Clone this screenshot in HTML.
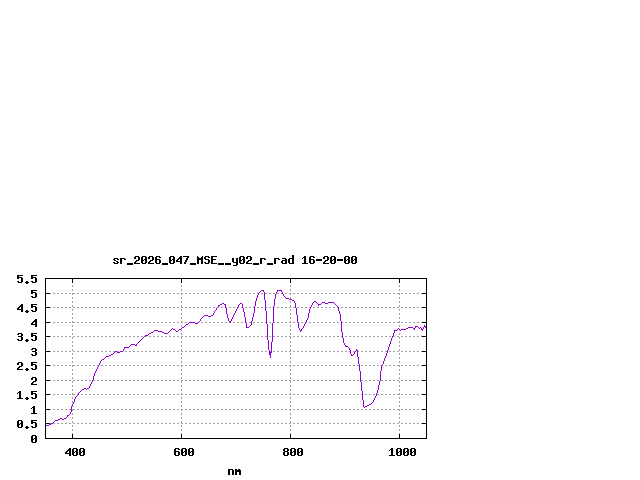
<!DOCTYPE html>
<html><head><meta charset="utf-8"><style>html,body{margin:0;padding:0;background:#fff;width:640px;height:480px;overflow:hidden}svg{display:block}</style></head>
<body><svg width="640" height="480" viewBox="0 0 640 480" shape-rendering="crispEdges"><rect width="640" height="480" fill="#fff"/><path fill="#000000" d="M292 255h2v1h-2zM135 256h4v1h-4zM142 256h4v1h-4zM149 256h4v1h-4zM156 256h4v1h-4zM170 256h4v1h-4zM180 256h2v1h-2zM183 256h6v1h-6zM197 256h1v1h-1zM202 256h1v1h-1zM205 256h4v1h-4zM211 256h6v1h-6zM240 256h4v1h-4zM247 256h4v1h-4zM292 256h2v1h-2zM304 256h2v1h-2zM310 256h4v1h-4zM324 256h4v1h-4zM331 256h4v1h-4zM345 256h4v1h-4zM352 256h4v1h-4zM134 257h2v1h-2zM138 257h2v1h-2zM141 257h2v1h-2zM145 257h2v1h-2zM148 257h2v1h-2zM152 257h2v1h-2zM155 257h2v1h-2zM159 257h2v1h-2zM169 257h2v1h-2zM173 257h2v1h-2zM179 257h3v1h-3zM187 257h2v1h-2zM197 257h2v1h-2zM201 257h2v1h-2zM204 257h2v1h-2zM208 257h2v1h-2zM211 257h2v1h-2zM239 257h2v1h-2zM243 257h2v1h-2zM246 257h2v1h-2zM250 257h2v1h-2zM292 257h2v1h-2zM303 257h3v1h-3zM309 257h2v1h-2zM313 257h2v1h-2zM323 257h2v1h-2zM327 257h2v1h-2zM330 257h2v1h-2zM334 257h2v1h-2zM344 257h2v1h-2zM348 257h2v1h-2zM351 257h2v1h-2zM355 257h2v1h-2zM114 258h4v1h-4zM120 258h5v1h-5zM134 258h2v1h-2zM138 258h2v1h-2zM141 258h2v1h-2zM145 258h2v1h-2zM148 258h2v1h-2zM152 258h2v1h-2zM155 258h2v1h-2zM169 258h2v1h-2zM173 258h2v1h-2zM178 258h4v1h-4zM186 258h2v1h-2zM197 258h6v1h-6zM204 258h2v1h-2zM211 258h2v1h-2zM232 258h2v1h-2zM236 258h2v1h-2zM239 258h2v1h-2zM243 258h2v1h-2zM246 258h2v1h-2zM250 258h2v1h-2zM260 258h5v1h-5zM274 258h5v1h-5zM282 258h4v1h-4zM289 258h5v1h-5zM302 258h1v1h-1zM304 258h2v1h-2zM309 258h2v1h-2zM323 258h2v1h-2zM327 258h2v1h-2zM330 258h2v1h-2zM334 258h2v1h-2zM344 258h2v1h-2zM348 258h2v1h-2zM351 258h2v1h-2zM355 258h2v1h-2zM113 259h2v1h-2zM117 259h2v1h-2zM120 259h2v1h-2zM124 259h2v1h-2zM138 259h2v1h-2zM141 259h2v1h-2zM144 259h3v1h-3zM152 259h2v1h-2zM155 259h5v1h-5zM169 259h2v1h-2zM172 259h3v1h-3zM177 259h2v1h-2zM180 259h2v1h-2zM186 259h2v1h-2zM197 259h6v1h-6zM205 259h4v1h-4zM211 259h5v1h-5zM232 259h2v1h-2zM236 259h2v1h-2zM239 259h2v1h-2zM242 259h3v1h-3zM250 259h2v1h-2zM260 259h2v1h-2zM264 259h2v1h-2zM274 259h2v1h-2zM278 259h2v1h-2zM285 259h2v1h-2zM288 259h2v1h-2zM292 259h2v1h-2zM304 259h2v1h-2zM309 259h5v1h-5zM316 259h6v1h-6zM327 259h2v1h-2zM330 259h2v1h-2zM333 259h3v1h-3zM337 259h6v1h-6zM344 259h2v1h-2zM347 259h3v1h-3zM351 259h2v1h-2zM354 259h3v1h-3zM114 260h2v1h-2zM120 260h2v1h-2zM136 260h3v1h-3zM141 260h3v1h-3zM145 260h2v1h-2zM150 260h3v1h-3zM155 260h2v1h-2zM159 260h2v1h-2zM169 260h3v1h-3zM173 260h2v1h-2zM176 260h2v1h-2zM180 260h2v1h-2zM185 260h2v1h-2zM197 260h2v1h-2zM201 260h2v1h-2zM208 260h2v1h-2zM211 260h2v1h-2zM232 260h2v1h-2zM236 260h2v1h-2zM239 260h3v1h-3zM243 260h2v1h-2zM248 260h3v1h-3zM260 260h2v1h-2zM274 260h2v1h-2zM282 260h5v1h-5zM288 260h2v1h-2zM292 260h2v1h-2zM304 260h2v1h-2zM309 260h2v1h-2zM313 260h2v1h-2zM316 260h6v1h-6zM325 260h3v1h-3zM330 260h3v1h-3zM334 260h2v1h-2zM337 260h6v1h-6zM344 260h3v1h-3zM348 260h2v1h-2zM351 260h3v1h-3zM355 260h2v1h-2zM116 261h2v1h-2zM120 261h2v1h-2zM135 261h2v1h-2zM141 261h2v1h-2zM145 261h2v1h-2zM149 261h2v1h-2zM155 261h2v1h-2zM159 261h2v1h-2zM169 261h2v1h-2zM173 261h2v1h-2zM176 261h6v1h-6zM185 261h2v1h-2zM197 261h2v1h-2zM201 261h2v1h-2zM208 261h2v1h-2zM211 261h2v1h-2zM232 261h2v1h-2zM236 261h2v1h-2zM239 261h2v1h-2zM243 261h2v1h-2zM247 261h2v1h-2zM260 261h2v1h-2zM274 261h2v1h-2zM281 261h2v1h-2zM285 261h2v1h-2zM288 261h2v1h-2zM292 261h2v1h-2zM304 261h2v1h-2zM309 261h2v1h-2zM313 261h2v1h-2zM324 261h2v1h-2zM330 261h2v1h-2zM334 261h2v1h-2zM344 261h2v1h-2zM348 261h2v1h-2zM351 261h2v1h-2zM355 261h2v1h-2zM113 262h2v1h-2zM117 262h2v1h-2zM120 262h2v1h-2zM134 262h2v1h-2zM141 262h2v1h-2zM145 262h2v1h-2zM148 262h2v1h-2zM155 262h2v1h-2zM159 262h2v1h-2zM169 262h2v1h-2zM173 262h2v1h-2zM180 262h2v1h-2zM184 262h2v1h-2zM197 262h2v1h-2zM201 262h2v1h-2zM204 262h2v1h-2zM208 262h2v1h-2zM211 262h2v1h-2zM233 262h5v1h-5zM239 262h2v1h-2zM243 262h2v1h-2zM246 262h2v1h-2zM260 262h2v1h-2zM274 262h2v1h-2zM281 262h2v1h-2zM285 262h2v1h-2zM288 262h2v1h-2zM292 262h2v1h-2zM304 262h2v1h-2zM309 262h2v1h-2zM313 262h2v1h-2zM323 262h2v1h-2zM330 262h2v1h-2zM334 262h2v1h-2zM344 262h2v1h-2zM348 262h2v1h-2zM351 262h2v1h-2zM355 262h2v1h-2zM114 263h4v1h-4zM120 263h2v1h-2zM127 263h6v1h-6zM134 263h6v1h-6zM142 263h4v1h-4zM148 263h6v1h-6zM156 263h4v1h-4zM162 263h6v1h-6zM170 263h4v1h-4zM180 263h2v1h-2zM184 263h2v1h-2zM190 263h6v1h-6zM197 263h2v1h-2zM201 263h2v1h-2zM205 263h4v1h-4zM211 263h6v1h-6zM218 263h6v1h-6zM225 263h6v1h-6zM236 263h2v1h-2zM240 263h4v1h-4zM246 263h6v1h-6zM253 263h6v1h-6zM260 263h2v1h-2zM267 263h6v1h-6zM274 263h2v1h-2zM282 263h5v1h-5zM289 263h5v1h-5zM302 263h6v1h-6zM310 263h4v1h-4zM323 263h6v1h-6zM331 263h4v1h-4zM345 263h4v1h-4zM352 263h4v1h-4zM127 264h6v1h-6zM162 264h6v1h-6zM190 264h6v1h-6zM218 264h6v1h-6zM225 264h6v1h-6zM236 264h2v1h-2zM253 264h6v1h-6zM267 264h6v1h-6zM233 265h4v1h-4zM17 275h6v1h-6zM31 275h6v1h-6zM17 276h2v1h-2zM31 276h2v1h-2zM17 277h5v1h-5zM31 277h5v1h-5zM17 278h2v1h-2zM21 278h2v1h-2zM31 278h2v1h-2zM35 278h2v1h-2zM45 278h382v1h-382zM21 279h2v1h-2zM35 279h2v1h-2zM45 279h1v1h-1zM72 279h1v1h-1zM181 279h1v1h-1zM290 279h1v1h-1zM399 279h1v1h-1zM426 279h1v1h-1zM21 280h2v1h-2zM35 280h2v1h-2zM45 280h1v1h-1zM72 280h1v1h-1zM181 280h1v1h-1zM290 280h1v1h-1zM399 280h1v1h-1zM426 280h1v1h-1zM17 281h2v1h-2zM21 281h2v1h-2zM26 281h2v1h-2zM31 281h2v1h-2zM35 281h2v1h-2zM45 281h1v1h-1zM72 281h1v1h-1zM181 281h1v1h-1zM290 281h1v1h-1zM399 281h1v1h-1zM426 281h1v1h-1zM18 282h4v1h-4zM25 282h4v1h-4zM32 282h4v1h-4zM45 282h1v1h-1zM72 282h1v1h-1zM181 282h1v1h-1zM290 282h1v1h-1zM399 282h1v1h-1zM426 282h1v1h-1zM26 283h2v1h-2zM45 283h1v1h-1zM426 283h1v1h-1zM45 284h1v1h-1zM426 284h1v1h-1zM45 285h1v1h-1zM426 285h1v1h-1zM45 286h1v1h-1zM426 286h1v1h-1zM45 287h1v1h-1zM426 287h1v1h-1zM45 288h1v1h-1zM426 288h1v1h-1zM45 289h1v1h-1zM426 289h1v1h-1zM31 290h6v1h-6zM45 290h1v1h-1zM426 290h1v1h-1zM31 291h2v1h-2zM45 291h1v1h-1zM426 291h1v1h-1zM31 292h5v1h-5zM45 292h1v1h-1zM426 292h1v1h-1zM31 293h2v1h-2zM35 293h2v1h-2zM45 293h5v1h-5zM422 293h5v1h-5zM35 294h2v1h-2zM45 294h1v1h-1zM426 294h1v1h-1zM35 295h2v1h-2zM45 295h1v1h-1zM426 295h1v1h-1zM31 296h2v1h-2zM35 296h2v1h-2zM45 296h1v1h-1zM426 296h1v1h-1zM32 297h4v1h-4zM45 297h1v1h-1zM426 297h1v1h-1zM45 298h1v1h-1zM426 298h1v1h-1zM45 299h1v1h-1zM426 299h1v1h-1zM45 300h1v1h-1zM426 300h1v1h-1zM45 301h1v1h-1zM426 301h1v1h-1zM45 302h1v1h-1zM426 302h1v1h-1zM45 303h1v1h-1zM426 303h1v1h-1zM21 304h2v1h-2zM31 304h6v1h-6zM45 304h1v1h-1zM426 304h1v1h-1zM20 305h3v1h-3zM31 305h2v1h-2zM45 305h1v1h-1zM426 305h1v1h-1zM19 306h4v1h-4zM31 306h5v1h-5zM45 306h1v1h-1zM426 306h1v1h-1zM18 307h2v1h-2zM21 307h2v1h-2zM31 307h2v1h-2zM35 307h2v1h-2zM45 307h5v1h-5zM422 307h5v1h-5zM17 308h2v1h-2zM21 308h2v1h-2zM35 308h2v1h-2zM45 308h1v1h-1zM426 308h1v1h-1zM17 309h6v1h-6zM35 309h2v1h-2zM45 309h1v1h-1zM426 309h1v1h-1zM21 310h2v1h-2zM26 310h2v1h-2zM31 310h2v1h-2zM35 310h2v1h-2zM45 310h1v1h-1zM426 310h1v1h-1zM21 311h2v1h-2zM25 311h4v1h-4zM32 311h4v1h-4zM45 311h1v1h-1zM426 311h1v1h-1zM26 312h2v1h-2zM45 312h1v1h-1zM426 312h1v1h-1zM45 313h1v1h-1zM426 313h1v1h-1zM45 314h1v1h-1zM426 314h1v1h-1zM45 315h1v1h-1zM426 315h1v1h-1zM45 316h1v1h-1zM426 316h1v1h-1zM45 317h1v1h-1zM426 317h1v1h-1zM45 318h1v1h-1zM426 318h1v1h-1zM35 319h2v1h-2zM45 319h1v1h-1zM426 319h1v1h-1zM34 320h3v1h-3zM45 320h1v1h-1zM426 320h1v1h-1zM33 321h4v1h-4zM45 321h1v1h-1zM426 321h1v1h-1zM32 322h2v1h-2zM35 322h2v1h-2zM45 322h5v1h-5zM422 322h5v1h-5zM31 323h2v1h-2zM35 323h2v1h-2zM45 323h1v1h-1zM426 323h1v1h-1zM31 324h6v1h-6zM45 324h1v1h-1zM426 324h1v1h-1zM35 325h2v1h-2zM45 325h1v1h-1zM426 325h1v1h-1zM35 326h2v1h-2zM45 326h1v1h-1zM426 326h1v1h-1zM45 327h1v1h-1zM426 327h1v1h-1zM45 328h1v1h-1zM426 328h1v1h-1zM45 329h1v1h-1zM426 329h1v1h-1zM45 330h1v1h-1zM426 330h1v1h-1zM45 331h1v1h-1zM426 331h1v1h-1zM45 332h1v1h-1zM426 332h1v1h-1zM18 333h4v1h-4zM31 333h6v1h-6zM45 333h1v1h-1zM426 333h1v1h-1zM17 334h2v1h-2zM21 334h2v1h-2zM31 334h2v1h-2zM45 334h1v1h-1zM426 334h1v1h-1zM21 335h2v1h-2zM31 335h5v1h-5zM45 335h1v1h-1zM426 335h1v1h-1zM18 336h4v1h-4zM31 336h2v1h-2zM35 336h2v1h-2zM45 336h5v1h-5zM422 336h5v1h-5zM21 337h2v1h-2zM35 337h2v1h-2zM45 337h1v1h-1zM426 337h1v1h-1zM21 338h2v1h-2zM35 338h2v1h-2zM45 338h1v1h-1zM426 338h1v1h-1zM17 339h2v1h-2zM21 339h2v1h-2zM26 339h2v1h-2zM31 339h2v1h-2zM35 339h2v1h-2zM45 339h1v1h-1zM426 339h1v1h-1zM18 340h4v1h-4zM25 340h4v1h-4zM32 340h4v1h-4zM45 340h1v1h-1zM426 340h1v1h-1zM26 341h2v1h-2zM45 341h1v1h-1zM426 341h1v1h-1zM45 342h1v1h-1zM426 342h1v1h-1zM45 343h1v1h-1zM426 343h1v1h-1zM45 344h1v1h-1zM426 344h1v1h-1zM45 345h1v1h-1zM426 345h1v1h-1zM45 346h1v1h-1zM426 346h1v1h-1zM45 347h1v1h-1zM426 347h1v1h-1zM32 348h4v1h-4zM45 348h1v1h-1zM426 348h1v1h-1zM31 349h2v1h-2zM35 349h2v1h-2zM45 349h1v1h-1zM426 349h1v1h-1zM35 350h2v1h-2zM45 350h1v1h-1zM426 350h1v1h-1zM32 351h4v1h-4zM45 351h5v1h-5zM422 351h5v1h-5zM35 352h2v1h-2zM45 352h1v1h-1zM426 352h1v1h-1zM35 353h2v1h-2zM45 353h1v1h-1zM426 353h1v1h-1zM31 354h2v1h-2zM35 354h2v1h-2zM45 354h1v1h-1zM426 354h1v1h-1zM32 355h4v1h-4zM45 355h1v1h-1zM426 355h1v1h-1zM45 356h1v1h-1zM426 356h1v1h-1zM45 357h1v1h-1zM426 357h1v1h-1zM45 358h1v1h-1zM426 358h1v1h-1zM45 359h1v1h-1zM426 359h1v1h-1zM45 360h1v1h-1zM426 360h1v1h-1zM45 361h1v1h-1zM426 361h1v1h-1zM18 362h4v1h-4zM31 362h6v1h-6zM45 362h1v1h-1zM426 362h1v1h-1zM17 363h2v1h-2zM21 363h2v1h-2zM31 363h2v1h-2zM45 363h1v1h-1zM426 363h1v1h-1zM17 364h2v1h-2zM21 364h2v1h-2zM31 364h5v1h-5zM45 364h1v1h-1zM426 364h1v1h-1zM21 365h2v1h-2zM31 365h2v1h-2zM35 365h2v1h-2zM45 365h5v1h-5zM422 365h5v1h-5zM19 366h3v1h-3zM35 366h2v1h-2zM45 366h1v1h-1zM426 366h1v1h-1zM18 367h2v1h-2zM35 367h2v1h-2zM45 367h1v1h-1zM426 367h1v1h-1zM17 368h2v1h-2zM26 368h2v1h-2zM31 368h2v1h-2zM35 368h2v1h-2zM45 368h1v1h-1zM426 368h1v1h-1zM17 369h6v1h-6zM25 369h4v1h-4zM32 369h4v1h-4zM45 369h1v1h-1zM426 369h1v1h-1zM26 370h2v1h-2zM45 370h1v1h-1zM426 370h1v1h-1zM45 371h1v1h-1zM426 371h1v1h-1zM45 372h1v1h-1zM426 372h1v1h-1zM45 373h1v1h-1zM426 373h1v1h-1zM45 374h1v1h-1zM426 374h1v1h-1zM45 375h1v1h-1zM426 375h1v1h-1zM45 376h1v1h-1zM426 376h1v1h-1zM32 377h4v1h-4zM45 377h1v1h-1zM426 377h1v1h-1zM31 378h2v1h-2zM35 378h2v1h-2zM45 378h1v1h-1zM426 378h1v1h-1zM31 379h2v1h-2zM35 379h2v1h-2zM45 379h1v1h-1zM426 379h1v1h-1zM35 380h2v1h-2zM45 380h5v1h-5zM422 380h5v1h-5zM33 381h3v1h-3zM45 381h1v1h-1zM426 381h1v1h-1zM32 382h2v1h-2zM45 382h1v1h-1zM426 382h1v1h-1zM31 383h2v1h-2zM45 383h1v1h-1zM426 383h1v1h-1zM31 384h6v1h-6zM45 384h1v1h-1zM426 384h1v1h-1zM45 385h1v1h-1zM426 385h1v1h-1zM45 386h1v1h-1zM426 386h1v1h-1zM45 387h1v1h-1zM426 387h1v1h-1zM45 388h1v1h-1zM426 388h1v1h-1zM45 389h1v1h-1zM426 389h1v1h-1zM45 390h1v1h-1zM426 390h1v1h-1zM19 391h2v1h-2zM31 391h6v1h-6zM45 391h1v1h-1zM426 391h1v1h-1zM18 392h3v1h-3zM31 392h2v1h-2zM45 392h1v1h-1zM426 392h1v1h-1zM17 393h1v1h-1zM19 393h2v1h-2zM31 393h5v1h-5zM45 393h1v1h-1zM426 393h1v1h-1zM19 394h2v1h-2zM31 394h2v1h-2zM35 394h2v1h-2zM45 394h5v1h-5zM422 394h5v1h-5zM19 395h2v1h-2zM35 395h2v1h-2zM45 395h1v1h-1zM426 395h1v1h-1zM19 396h2v1h-2zM35 396h2v1h-2zM45 396h1v1h-1zM426 396h1v1h-1zM19 397h2v1h-2zM26 397h2v1h-2zM31 397h2v1h-2zM35 397h2v1h-2zM45 397h1v1h-1zM426 397h1v1h-1zM17 398h6v1h-6zM25 398h4v1h-4zM32 398h4v1h-4zM45 398h1v1h-1zM426 398h1v1h-1zM26 399h2v1h-2zM45 399h1v1h-1zM426 399h1v1h-1zM45 400h1v1h-1zM426 400h1v1h-1zM45 401h1v1h-1zM426 401h1v1h-1zM45 402h1v1h-1zM426 402h1v1h-1zM45 403h1v1h-1zM426 403h1v1h-1zM45 404h1v1h-1zM426 404h1v1h-1zM45 405h1v1h-1zM426 405h1v1h-1zM33 406h2v1h-2zM45 406h1v1h-1zM426 406h1v1h-1zM32 407h3v1h-3zM45 407h1v1h-1zM426 407h1v1h-1zM31 408h1v1h-1zM33 408h2v1h-2zM45 408h1v1h-1zM426 408h1v1h-1zM33 409h2v1h-2zM45 409h5v1h-5zM422 409h5v1h-5zM33 410h2v1h-2zM45 410h1v1h-1zM426 410h1v1h-1zM33 411h2v1h-2zM45 411h1v1h-1zM426 411h1v1h-1zM33 412h2v1h-2zM45 412h1v1h-1zM426 412h1v1h-1zM31 413h6v1h-6zM45 413h1v1h-1zM426 413h1v1h-1zM45 414h1v1h-1zM426 414h1v1h-1zM45 415h1v1h-1zM426 415h1v1h-1zM45 416h1v1h-1zM426 416h1v1h-1zM45 417h1v1h-1zM426 417h1v1h-1zM45 418h1v1h-1zM426 418h1v1h-1zM45 419h1v1h-1zM426 419h1v1h-1zM18 420h4v1h-4zM31 420h6v1h-6zM45 420h1v1h-1zM426 420h1v1h-1zM17 421h2v1h-2zM21 421h2v1h-2zM31 421h2v1h-2zM45 421h1v1h-1zM426 421h1v1h-1zM17 422h2v1h-2zM21 422h2v1h-2zM31 422h5v1h-5zM45 422h1v1h-1zM426 422h1v1h-1zM17 423h2v1h-2zM20 423h3v1h-3zM31 423h2v1h-2zM35 423h2v1h-2zM45 423h5v1h-5zM422 423h5v1h-5zM17 424h3v1h-3zM21 424h2v1h-2zM35 424h2v1h-2zM45 424h1v1h-1zM426 424h1v1h-1zM17 425h2v1h-2zM21 425h2v1h-2zM35 425h2v1h-2zM45 425h1v1h-1zM426 425h1v1h-1zM17 426h2v1h-2zM21 426h2v1h-2zM26 426h2v1h-2zM31 426h2v1h-2zM35 426h2v1h-2zM45 426h1v1h-1zM426 426h1v1h-1zM18 427h4v1h-4zM25 427h4v1h-4zM32 427h4v1h-4zM45 427h1v1h-1zM426 427h1v1h-1zM26 428h2v1h-2zM45 428h1v1h-1zM426 428h1v1h-1zM45 429h1v1h-1zM426 429h1v1h-1zM45 430h1v1h-1zM426 430h1v1h-1zM45 431h1v1h-1zM426 431h1v1h-1zM45 432h1v1h-1zM426 432h1v1h-1zM45 433h1v1h-1zM426 433h1v1h-1zM45 434h1v1h-1zM72 434h1v1h-1zM181 434h1v1h-1zM290 434h1v1h-1zM399 434h1v1h-1zM426 434h1v1h-1zM32 435h4v1h-4zM45 435h1v1h-1zM72 435h1v1h-1zM181 435h1v1h-1zM290 435h1v1h-1zM399 435h1v1h-1zM426 435h1v1h-1zM31 436h2v1h-2zM35 436h2v1h-2zM45 436h1v1h-1zM72 436h1v1h-1zM181 436h1v1h-1zM290 436h1v1h-1zM399 436h1v1h-1zM426 436h1v1h-1zM31 437h2v1h-2zM35 437h2v1h-2zM45 437h1v1h-1zM72 437h1v1h-1zM181 437h1v1h-1zM290 437h1v1h-1zM399 437h1v1h-1zM426 437h1v1h-1zM31 438h2v1h-2zM34 438h3v1h-3zM45 438h382v1h-382zM31 439h3v1h-3zM35 439h2v1h-2zM31 440h2v1h-2zM35 440h2v1h-2zM31 441h2v1h-2zM35 441h2v1h-2zM32 442h4v1h-4zM69 448h2v1h-2zM73 448h4v1h-4zM80 448h4v1h-4zM175 448h4v1h-4zM182 448h4v1h-4zM189 448h4v1h-4zM284 448h4v1h-4zM291 448h4v1h-4zM298 448h4v1h-4zM391 448h2v1h-2zM397 448h4v1h-4zM404 448h4v1h-4zM411 448h4v1h-4zM68 449h3v1h-3zM72 449h2v1h-2zM76 449h2v1h-2zM79 449h2v1h-2zM83 449h2v1h-2zM174 449h2v1h-2zM178 449h2v1h-2zM181 449h2v1h-2zM185 449h2v1h-2zM188 449h2v1h-2zM192 449h2v1h-2zM283 449h2v1h-2zM287 449h2v1h-2zM290 449h2v1h-2zM294 449h2v1h-2zM297 449h2v1h-2zM301 449h2v1h-2zM390 449h3v1h-3zM396 449h2v1h-2zM400 449h2v1h-2zM403 449h2v1h-2zM407 449h2v1h-2zM410 449h2v1h-2zM414 449h2v1h-2zM67 450h4v1h-4zM72 450h2v1h-2zM76 450h2v1h-2zM79 450h2v1h-2zM83 450h2v1h-2zM174 450h2v1h-2zM181 450h2v1h-2zM185 450h2v1h-2zM188 450h2v1h-2zM192 450h2v1h-2zM283 450h2v1h-2zM287 450h2v1h-2zM290 450h2v1h-2zM294 450h2v1h-2zM297 450h2v1h-2zM301 450h2v1h-2zM389 450h1v1h-1zM391 450h2v1h-2zM396 450h2v1h-2zM400 450h2v1h-2zM403 450h2v1h-2zM407 450h2v1h-2zM410 450h2v1h-2zM414 450h2v1h-2zM66 451h2v1h-2zM69 451h2v1h-2zM72 451h2v1h-2zM75 451h3v1h-3zM79 451h2v1h-2zM82 451h3v1h-3zM174 451h5v1h-5zM181 451h2v1h-2zM184 451h3v1h-3zM188 451h2v1h-2zM191 451h3v1h-3zM284 451h4v1h-4zM290 451h2v1h-2zM293 451h3v1h-3zM297 451h2v1h-2zM300 451h3v1h-3zM391 451h2v1h-2zM396 451h2v1h-2zM399 451h3v1h-3zM403 451h2v1h-2zM406 451h3v1h-3zM410 451h2v1h-2zM413 451h3v1h-3zM65 452h2v1h-2zM69 452h2v1h-2zM72 452h3v1h-3zM76 452h2v1h-2zM79 452h3v1h-3zM83 452h2v1h-2zM174 452h2v1h-2zM178 452h2v1h-2zM181 452h3v1h-3zM185 452h2v1h-2zM188 452h3v1h-3zM192 452h2v1h-2zM283 452h2v1h-2zM287 452h2v1h-2zM290 452h3v1h-3zM294 452h2v1h-2zM297 452h3v1h-3zM301 452h2v1h-2zM391 452h2v1h-2zM396 452h3v1h-3zM400 452h2v1h-2zM403 452h3v1h-3zM407 452h2v1h-2zM410 452h3v1h-3zM414 452h2v1h-2zM65 453h6v1h-6zM72 453h2v1h-2zM76 453h2v1h-2zM79 453h2v1h-2zM83 453h2v1h-2zM174 453h2v1h-2zM178 453h2v1h-2zM181 453h2v1h-2zM185 453h2v1h-2zM188 453h2v1h-2zM192 453h2v1h-2zM283 453h2v1h-2zM287 453h2v1h-2zM290 453h2v1h-2zM294 453h2v1h-2zM297 453h2v1h-2zM301 453h2v1h-2zM391 453h2v1h-2zM396 453h2v1h-2zM400 453h2v1h-2zM403 453h2v1h-2zM407 453h2v1h-2zM410 453h2v1h-2zM414 453h2v1h-2zM69 454h2v1h-2zM72 454h2v1h-2zM76 454h2v1h-2zM79 454h2v1h-2zM83 454h2v1h-2zM174 454h2v1h-2zM178 454h2v1h-2zM181 454h2v1h-2zM185 454h2v1h-2zM188 454h2v1h-2zM192 454h2v1h-2zM283 454h2v1h-2zM287 454h2v1h-2zM290 454h2v1h-2zM294 454h2v1h-2zM297 454h2v1h-2zM301 454h2v1h-2zM391 454h2v1h-2zM396 454h2v1h-2zM400 454h2v1h-2zM403 454h2v1h-2zM407 454h2v1h-2zM410 454h2v1h-2zM414 454h2v1h-2zM69 455h2v1h-2zM73 455h4v1h-4zM80 455h4v1h-4zM175 455h4v1h-4zM182 455h4v1h-4zM189 455h4v1h-4zM284 455h4v1h-4zM291 455h4v1h-4zM298 455h4v1h-4zM389 455h6v1h-6zM397 455h4v1h-4zM404 455h4v1h-4zM411 455h4v1h-4zM228 469h5v1h-5zM235 469h2v1h-2zM238 469h2v1h-2zM228 470h2v1h-2zM232 470h2v1h-2zM235 470h6v1h-6zM228 471h2v1h-2zM232 471h2v1h-2zM235 471h6v1h-6zM228 472h2v1h-2zM232 472h2v1h-2zM235 472h2v1h-2zM239 472h2v1h-2zM228 473h2v1h-2zM232 473h2v1h-2zM235 473h2v1h-2zM239 473h2v1h-2zM228 474h2v1h-2zM232 474h2v1h-2zM235 474h2v1h-2zM239 474h2v1h-2z"/><path fill="#a0a0a0" d="M72 285h1v1h-1zM181 285h1v1h-1zM290 285h1v1h-1zM399 285h1v1h-1zM72 286h1v1h-1zM181 286h1v1h-1zM290 286h1v1h-1zM399 286h1v1h-1zM72 289h1v1h-1zM181 289h1v1h-1zM290 289h1v1h-1zM399 289h1v1h-1zM72 290h1v1h-1zM181 290h1v1h-1zM290 290h1v1h-1zM399 290h1v1h-1zM50 293h1v1h-1zM53 293h2v1h-2zM57 293h2v1h-2zM61 293h2v1h-2zM65 293h2v1h-2zM69 293h2v1h-2zM72 293h3v1h-3zM77 293h2v1h-2zM81 293h2v1h-2zM85 293h2v1h-2zM89 293h2v1h-2zM93 293h2v1h-2zM97 293h2v1h-2zM101 293h2v1h-2zM105 293h2v1h-2zM109 293h2v1h-2zM113 293h2v1h-2zM117 293h2v1h-2zM121 293h2v1h-2zM125 293h2v1h-2zM129 293h2v1h-2zM133 293h2v1h-2zM137 293h2v1h-2zM141 293h2v1h-2zM145 293h2v1h-2zM149 293h2v1h-2zM153 293h2v1h-2zM157 293h2v1h-2zM161 293h2v1h-2zM165 293h2v1h-2zM169 293h2v1h-2zM173 293h2v1h-2zM177 293h2v1h-2zM181 293h2v1h-2zM185 293h2v1h-2zM189 293h2v1h-2zM193 293h2v1h-2zM197 293h2v1h-2zM201 293h2v1h-2zM205 293h2v1h-2zM209 293h2v1h-2zM213 293h2v1h-2zM217 293h2v1h-2zM221 293h2v1h-2zM225 293h2v1h-2zM229 293h2v1h-2zM233 293h2v1h-2zM237 293h2v1h-2zM241 293h2v1h-2zM245 293h2v1h-2zM249 293h2v1h-2zM253 293h2v1h-2zM257 293h1v1h-1zM261 293h2v1h-2zM265 293h2v1h-2zM269 293h2v1h-2zM273 293h2v1h-2zM277 293h2v1h-2zM281 293h1v1h-1zM285 293h2v1h-2zM289 293h2v1h-2zM293 293h2v1h-2zM297 293h2v1h-2zM301 293h2v1h-2zM305 293h2v1h-2zM309 293h2v1h-2zM313 293h2v1h-2zM317 293h2v1h-2zM321 293h2v1h-2zM325 293h2v1h-2zM329 293h2v1h-2zM333 293h2v1h-2zM337 293h2v1h-2zM341 293h2v1h-2zM345 293h2v1h-2zM349 293h2v1h-2zM353 293h2v1h-2zM357 293h2v1h-2zM361 293h2v1h-2zM365 293h2v1h-2zM369 293h2v1h-2zM373 293h2v1h-2zM377 293h2v1h-2zM381 293h2v1h-2zM385 293h2v1h-2zM389 293h2v1h-2zM393 293h2v1h-2zM397 293h3v1h-3zM401 293h2v1h-2zM405 293h2v1h-2zM409 293h2v1h-2zM413 293h2v1h-2zM417 293h2v1h-2zM421 293h1v1h-1zM72 294h1v1h-1zM181 294h1v1h-1zM290 294h1v1h-1zM399 294h1v1h-1zM72 297h1v1h-1zM181 297h1v1h-1zM290 297h1v1h-1zM399 297h1v1h-1zM72 298h1v1h-1zM181 298h1v1h-1zM290 298h1v1h-1zM399 298h1v1h-1zM72 301h1v1h-1zM181 301h1v1h-1zM290 301h1v1h-1zM399 301h1v1h-1zM72 302h1v1h-1zM181 302h1v1h-1zM290 302h1v1h-1zM399 302h1v1h-1zM72 305h1v1h-1zM181 305h1v1h-1zM290 305h1v1h-1zM399 305h1v1h-1zM72 306h1v1h-1zM181 306h1v1h-1zM290 306h1v1h-1zM399 306h1v1h-1zM50 307h1v1h-1zM53 307h2v1h-2zM57 307h2v1h-2zM61 307h2v1h-2zM65 307h2v1h-2zM69 307h2v1h-2zM73 307h2v1h-2zM77 307h2v1h-2zM81 307h2v1h-2zM85 307h2v1h-2zM89 307h2v1h-2zM93 307h2v1h-2zM97 307h2v1h-2zM101 307h2v1h-2zM105 307h2v1h-2zM109 307h2v1h-2zM113 307h2v1h-2zM117 307h2v1h-2zM121 307h2v1h-2zM125 307h2v1h-2zM129 307h2v1h-2zM133 307h2v1h-2zM137 307h2v1h-2zM141 307h2v1h-2zM145 307h2v1h-2zM149 307h2v1h-2zM153 307h2v1h-2zM157 307h2v1h-2zM161 307h2v1h-2zM165 307h2v1h-2zM169 307h2v1h-2zM173 307h2v1h-2zM177 307h2v1h-2zM181 307h2v1h-2zM185 307h2v1h-2zM189 307h2v1h-2zM193 307h2v1h-2zM197 307h2v1h-2zM201 307h2v1h-2zM205 307h2v1h-2zM209 307h2v1h-2zM213 307h2v1h-2zM218 307h1v1h-1zM221 307h2v1h-2zM226 307h1v1h-1zM229 307h2v1h-2zM233 307h2v1h-2zM238 307h1v1h-1zM241 307h1v1h-1zM245 307h2v1h-2zM249 307h2v1h-2zM253 307h1v1h-1zM257 307h2v1h-2zM261 307h2v1h-2zM266 307h1v1h-1zM269 307h2v1h-2zM274 307h1v1h-1zM277 307h2v1h-2zM281 307h2v1h-2zM285 307h2v1h-2zM289 307h2v1h-2zM293 307h2v1h-2zM297 307h2v1h-2zM301 307h2v1h-2zM305 307h2v1h-2zM309 307h1v1h-1zM313 307h2v1h-2zM317 307h2v1h-2zM321 307h2v1h-2zM325 307h2v1h-2zM329 307h2v1h-2zM333 307h2v1h-2zM337 307h1v1h-1zM341 307h2v1h-2zM345 307h2v1h-2zM349 307h2v1h-2zM353 307h2v1h-2zM357 307h2v1h-2zM361 307h2v1h-2zM365 307h2v1h-2zM369 307h2v1h-2zM373 307h2v1h-2zM377 307h2v1h-2zM381 307h2v1h-2zM385 307h2v1h-2zM389 307h2v1h-2zM393 307h2v1h-2zM397 307h2v1h-2zM401 307h2v1h-2zM405 307h2v1h-2zM409 307h2v1h-2zM413 307h2v1h-2zM417 307h2v1h-2zM421 307h1v1h-1zM72 309h1v1h-1zM181 309h1v1h-1zM290 309h1v1h-1zM399 309h1v1h-1zM72 310h1v1h-1zM181 310h1v1h-1zM290 310h1v1h-1zM399 310h1v1h-1zM72 313h1v1h-1zM181 313h1v1h-1zM290 313h1v1h-1zM399 313h1v1h-1zM72 314h1v1h-1zM181 314h1v1h-1zM290 314h1v1h-1zM399 314h1v1h-1zM72 317h1v1h-1zM181 317h1v1h-1zM290 317h1v1h-1zM399 317h1v1h-1zM72 318h1v1h-1zM181 318h1v1h-1zM290 318h1v1h-1zM399 318h1v1h-1zM72 321h1v1h-1zM181 321h1v1h-1zM290 321h1v1h-1zM399 321h1v1h-1zM50 322h1v1h-1zM53 322h2v1h-2zM57 322h2v1h-2zM61 322h2v1h-2zM65 322h2v1h-2zM69 322h2v1h-2zM72 322h3v1h-3zM77 322h2v1h-2zM81 322h2v1h-2zM85 322h2v1h-2zM89 322h2v1h-2zM93 322h2v1h-2zM97 322h2v1h-2zM101 322h2v1h-2zM105 322h2v1h-2zM109 322h2v1h-2zM113 322h2v1h-2zM117 322h2v1h-2zM121 322h2v1h-2zM125 322h2v1h-2zM129 322h2v1h-2zM133 322h2v1h-2zM137 322h2v1h-2zM141 322h2v1h-2zM145 322h2v1h-2zM149 322h2v1h-2zM153 322h2v1h-2zM157 322h2v1h-2zM161 322h2v1h-2zM165 322h2v1h-2zM169 322h2v1h-2zM173 322h2v1h-2zM177 322h2v1h-2zM181 322h2v1h-2zM185 322h2v1h-2zM197 322h1v1h-1zM201 322h2v1h-2zM205 322h2v1h-2zM209 322h2v1h-2zM213 322h2v1h-2zM217 322h2v1h-2zM221 322h2v1h-2zM225 322h2v1h-2zM229 322h1v1h-1zM233 322h2v1h-2zM237 322h2v1h-2zM241 322h2v1h-2zM246 322h1v1h-1zM249 322h2v1h-2zM253 322h2v1h-2zM257 322h2v1h-2zM261 322h2v1h-2zM265 322h1v1h-1zM269 322h2v1h-2zM274 322h1v1h-1zM277 322h2v1h-2zM281 322h2v1h-2zM285 322h2v1h-2zM289 322h2v1h-2zM293 322h2v1h-2zM297 322h1v1h-1zM301 322h2v1h-2zM306 322h1v1h-1zM309 322h2v1h-2zM313 322h2v1h-2zM317 322h2v1h-2zM321 322h2v1h-2zM325 322h2v1h-2zM329 322h2v1h-2zM333 322h2v1h-2zM337 322h2v1h-2zM342 322h1v1h-1zM345 322h2v1h-2zM349 322h2v1h-2zM353 322h2v1h-2zM357 322h2v1h-2zM361 322h2v1h-2zM365 322h2v1h-2zM369 322h2v1h-2zM373 322h2v1h-2zM377 322h2v1h-2zM381 322h2v1h-2zM385 322h2v1h-2zM389 322h2v1h-2zM393 322h2v1h-2zM397 322h3v1h-3zM401 322h2v1h-2zM405 322h2v1h-2zM409 322h2v1h-2zM413 322h2v1h-2zM417 322h2v1h-2zM421 322h1v1h-1zM72 325h1v1h-1zM181 325h1v1h-1zM290 325h1v1h-1zM399 325h1v1h-1zM72 326h1v1h-1zM181 326h1v1h-1zM290 326h1v1h-1zM399 326h1v1h-1zM72 329h1v1h-1zM181 329h1v1h-1zM290 329h1v1h-1zM72 330h1v1h-1zM181 330h1v1h-1zM290 330h1v1h-1zM399 330h1v1h-1zM72 333h1v1h-1zM181 333h1v1h-1zM290 333h1v1h-1zM399 333h1v1h-1zM72 334h1v1h-1zM181 334h1v1h-1zM290 334h1v1h-1zM399 334h1v1h-1zM50 336h1v1h-1zM53 336h2v1h-2zM57 336h2v1h-2zM61 336h2v1h-2zM65 336h2v1h-2zM69 336h2v1h-2zM73 336h2v1h-2zM77 336h2v1h-2zM81 336h2v1h-2zM85 336h2v1h-2zM89 336h2v1h-2zM93 336h2v1h-2zM97 336h2v1h-2zM101 336h2v1h-2zM105 336h2v1h-2zM109 336h2v1h-2zM113 336h2v1h-2zM117 336h2v1h-2zM121 336h2v1h-2zM125 336h2v1h-2zM129 336h2v1h-2zM133 336h2v1h-2zM137 336h2v1h-2zM141 336h2v1h-2zM145 336h2v1h-2zM149 336h2v1h-2zM153 336h2v1h-2zM157 336h2v1h-2zM161 336h2v1h-2zM165 336h2v1h-2zM169 336h2v1h-2zM173 336h2v1h-2zM177 336h2v1h-2zM181 336h2v1h-2zM185 336h2v1h-2zM189 336h2v1h-2zM193 336h2v1h-2zM197 336h2v1h-2zM201 336h2v1h-2zM205 336h2v1h-2zM209 336h2v1h-2zM213 336h2v1h-2zM217 336h2v1h-2zM221 336h2v1h-2zM225 336h2v1h-2zM229 336h2v1h-2zM233 336h2v1h-2zM237 336h2v1h-2zM241 336h2v1h-2zM245 336h2v1h-2zM249 336h2v1h-2zM253 336h2v1h-2zM257 336h2v1h-2zM261 336h2v1h-2zM265 336h2v1h-2zM269 336h2v1h-2zM273 336h2v1h-2zM277 336h2v1h-2zM281 336h2v1h-2zM285 336h2v1h-2zM289 336h2v1h-2zM293 336h2v1h-2zM297 336h2v1h-2zM301 336h2v1h-2zM305 336h2v1h-2zM309 336h2v1h-2zM313 336h2v1h-2zM317 336h2v1h-2zM321 336h2v1h-2zM325 336h2v1h-2zM329 336h2v1h-2zM333 336h2v1h-2zM337 336h2v1h-2zM341 336h1v1h-1zM345 336h2v1h-2zM349 336h2v1h-2zM353 336h2v1h-2zM357 336h2v1h-2zM361 336h2v1h-2zM365 336h2v1h-2zM369 336h2v1h-2zM373 336h2v1h-2zM377 336h2v1h-2zM381 336h2v1h-2zM385 336h2v1h-2zM389 336h2v1h-2zM393 336h2v1h-2zM397 336h2v1h-2zM401 336h2v1h-2zM405 336h2v1h-2zM409 336h2v1h-2zM413 336h2v1h-2zM417 336h2v1h-2zM421 336h1v1h-1zM72 337h1v1h-1zM181 337h1v1h-1zM290 337h1v1h-1zM399 337h1v1h-1zM72 338h1v1h-1zM181 338h1v1h-1zM290 338h1v1h-1zM399 338h1v1h-1zM72 341h1v1h-1zM181 341h1v1h-1zM290 341h1v1h-1zM399 341h1v1h-1zM72 342h1v1h-1zM181 342h1v1h-1zM290 342h1v1h-1zM399 342h1v1h-1zM72 345h1v1h-1zM181 345h1v1h-1zM290 345h1v1h-1zM399 345h1v1h-1zM72 346h1v1h-1zM181 346h1v1h-1zM290 346h1v1h-1zM399 346h1v1h-1zM72 349h1v1h-1zM181 349h1v1h-1zM290 349h1v1h-1zM399 349h1v1h-1zM72 350h1v1h-1zM181 350h1v1h-1zM290 350h1v1h-1zM399 350h1v1h-1zM50 351h1v1h-1zM53 351h2v1h-2zM57 351h2v1h-2zM61 351h2v1h-2zM65 351h2v1h-2zM69 351h2v1h-2zM73 351h2v1h-2zM77 351h2v1h-2zM81 351h2v1h-2zM85 351h2v1h-2zM89 351h2v1h-2zM93 351h2v1h-2zM97 351h2v1h-2zM101 351h2v1h-2zM105 351h2v1h-2zM109 351h2v1h-2zM113 351h2v1h-2zM117 351h2v1h-2zM125 351h2v1h-2zM129 351h2v1h-2zM133 351h2v1h-2zM137 351h2v1h-2zM141 351h2v1h-2zM145 351h2v1h-2zM149 351h2v1h-2zM153 351h2v1h-2zM157 351h2v1h-2zM161 351h2v1h-2zM165 351h2v1h-2zM169 351h2v1h-2zM173 351h2v1h-2zM177 351h2v1h-2zM181 351h2v1h-2zM185 351h2v1h-2zM189 351h2v1h-2zM193 351h2v1h-2zM197 351h2v1h-2zM201 351h2v1h-2zM205 351h2v1h-2zM209 351h2v1h-2zM213 351h2v1h-2zM217 351h2v1h-2zM221 351h2v1h-2zM225 351h2v1h-2zM229 351h2v1h-2zM233 351h2v1h-2zM237 351h2v1h-2zM241 351h2v1h-2zM245 351h2v1h-2zM249 351h2v1h-2zM253 351h2v1h-2zM257 351h2v1h-2zM261 351h2v1h-2zM265 351h2v1h-2zM270 351h1v1h-1zM273 351h2v1h-2zM277 351h2v1h-2zM281 351h2v1h-2zM285 351h2v1h-2zM289 351h2v1h-2zM293 351h2v1h-2zM297 351h2v1h-2zM301 351h2v1h-2zM305 351h2v1h-2zM309 351h2v1h-2zM313 351h2v1h-2zM317 351h2v1h-2zM321 351h2v1h-2zM325 351h2v1h-2zM329 351h2v1h-2zM333 351h2v1h-2zM337 351h2v1h-2zM341 351h2v1h-2zM345 351h2v1h-2zM349 351h1v1h-1zM353 351h2v1h-2zM358 351h1v1h-1zM361 351h2v1h-2zM365 351h2v1h-2zM369 351h2v1h-2zM373 351h2v1h-2zM377 351h2v1h-2zM381 351h2v1h-2zM385 351h2v1h-2zM389 351h2v1h-2zM393 351h2v1h-2zM397 351h2v1h-2zM401 351h2v1h-2zM405 351h2v1h-2zM409 351h2v1h-2zM413 351h2v1h-2zM417 351h2v1h-2zM421 351h1v1h-1zM72 353h1v1h-1zM181 353h1v1h-1zM290 353h1v1h-1zM399 353h1v1h-1zM72 354h1v1h-1zM181 354h1v1h-1zM290 354h1v1h-1zM399 354h1v1h-1zM72 357h1v1h-1zM181 357h1v1h-1zM290 357h1v1h-1zM399 357h1v1h-1zM72 358h1v1h-1zM181 358h1v1h-1zM290 358h1v1h-1zM399 358h1v1h-1zM72 361h1v1h-1zM181 361h1v1h-1zM290 361h1v1h-1zM399 361h1v1h-1zM72 362h1v1h-1zM181 362h1v1h-1zM290 362h1v1h-1zM399 362h1v1h-1zM50 365h1v1h-1zM53 365h2v1h-2zM57 365h2v1h-2zM61 365h2v1h-2zM65 365h2v1h-2zM69 365h2v1h-2zM72 365h3v1h-3zM77 365h2v1h-2zM81 365h2v1h-2zM85 365h2v1h-2zM89 365h2v1h-2zM93 365h2v1h-2zM97 365h1v1h-1zM101 365h2v1h-2zM105 365h2v1h-2zM109 365h2v1h-2zM113 365h2v1h-2zM117 365h2v1h-2zM121 365h2v1h-2zM125 365h2v1h-2zM129 365h2v1h-2zM133 365h2v1h-2zM137 365h2v1h-2zM141 365h2v1h-2zM145 365h2v1h-2zM149 365h2v1h-2zM153 365h2v1h-2zM157 365h2v1h-2zM161 365h2v1h-2zM165 365h2v1h-2zM169 365h2v1h-2zM173 365h2v1h-2zM177 365h2v1h-2zM181 365h2v1h-2zM185 365h2v1h-2zM189 365h2v1h-2zM193 365h2v1h-2zM197 365h2v1h-2zM201 365h2v1h-2zM205 365h2v1h-2zM209 365h2v1h-2zM213 365h2v1h-2zM217 365h2v1h-2zM221 365h2v1h-2zM225 365h2v1h-2zM229 365h2v1h-2zM233 365h2v1h-2zM237 365h2v1h-2zM241 365h2v1h-2zM245 365h2v1h-2zM249 365h2v1h-2zM253 365h2v1h-2zM257 365h2v1h-2zM261 365h2v1h-2zM265 365h2v1h-2zM269 365h2v1h-2zM273 365h2v1h-2zM277 365h2v1h-2zM281 365h2v1h-2zM285 365h2v1h-2zM289 365h2v1h-2zM293 365h2v1h-2zM297 365h2v1h-2zM301 365h2v1h-2zM305 365h2v1h-2zM309 365h2v1h-2zM313 365h2v1h-2zM317 365h2v1h-2zM321 365h2v1h-2zM325 365h2v1h-2zM329 365h2v1h-2zM333 365h2v1h-2zM337 365h2v1h-2zM341 365h2v1h-2zM345 365h2v1h-2zM349 365h2v1h-2zM353 365h2v1h-2zM357 365h2v1h-2zM361 365h2v1h-2zM365 365h2v1h-2zM369 365h2v1h-2zM373 365h2v1h-2zM377 365h2v1h-2zM382 365h1v1h-1zM385 365h2v1h-2zM389 365h2v1h-2zM393 365h2v1h-2zM397 365h3v1h-3zM401 365h2v1h-2zM405 365h2v1h-2zM409 365h2v1h-2zM413 365h2v1h-2zM417 365h2v1h-2zM421 365h1v1h-1zM72 366h1v1h-1zM181 366h1v1h-1zM290 366h1v1h-1zM399 366h1v1h-1zM72 369h1v1h-1zM181 369h1v1h-1zM290 369h1v1h-1zM399 369h1v1h-1zM72 370h1v1h-1zM181 370h1v1h-1zM290 370h1v1h-1zM399 370h1v1h-1zM72 373h1v1h-1zM181 373h1v1h-1zM290 373h1v1h-1zM399 373h1v1h-1zM72 374h1v1h-1zM181 374h1v1h-1zM290 374h1v1h-1zM399 374h1v1h-1zM72 377h1v1h-1zM181 377h1v1h-1zM290 377h1v1h-1zM399 377h1v1h-1zM72 378h1v1h-1zM181 378h1v1h-1zM290 378h1v1h-1zM399 378h1v1h-1zM50 380h1v1h-1zM53 380h2v1h-2zM57 380h2v1h-2zM61 380h2v1h-2zM65 380h2v1h-2zM69 380h2v1h-2zM73 380h2v1h-2zM77 380h2v1h-2zM81 380h2v1h-2zM85 380h2v1h-2zM89 380h2v1h-2zM93 380h2v1h-2zM97 380h2v1h-2zM101 380h2v1h-2zM105 380h2v1h-2zM109 380h2v1h-2zM113 380h2v1h-2zM117 380h2v1h-2zM121 380h2v1h-2zM125 380h2v1h-2zM129 380h2v1h-2zM133 380h2v1h-2zM137 380h2v1h-2zM141 380h2v1h-2zM145 380h2v1h-2zM149 380h2v1h-2zM153 380h2v1h-2zM157 380h2v1h-2zM161 380h2v1h-2zM165 380h2v1h-2zM169 380h2v1h-2zM173 380h2v1h-2zM177 380h2v1h-2zM181 380h2v1h-2zM185 380h2v1h-2zM189 380h2v1h-2zM193 380h2v1h-2zM197 380h2v1h-2zM201 380h2v1h-2zM205 380h2v1h-2zM209 380h2v1h-2zM213 380h2v1h-2zM217 380h2v1h-2zM221 380h2v1h-2zM225 380h2v1h-2zM229 380h2v1h-2zM233 380h2v1h-2zM237 380h2v1h-2zM241 380h2v1h-2zM245 380h2v1h-2zM249 380h2v1h-2zM253 380h2v1h-2zM257 380h2v1h-2zM261 380h2v1h-2zM265 380h2v1h-2zM269 380h2v1h-2zM273 380h2v1h-2zM277 380h2v1h-2zM281 380h2v1h-2zM285 380h2v1h-2zM289 380h2v1h-2zM293 380h2v1h-2zM297 380h2v1h-2zM301 380h2v1h-2zM305 380h2v1h-2zM309 380h2v1h-2zM313 380h2v1h-2zM317 380h2v1h-2zM321 380h2v1h-2zM325 380h2v1h-2zM329 380h2v1h-2zM333 380h2v1h-2zM337 380h2v1h-2zM341 380h2v1h-2zM345 380h2v1h-2zM349 380h2v1h-2zM353 380h2v1h-2zM357 380h2v1h-2zM361 380h2v1h-2zM365 380h2v1h-2zM369 380h2v1h-2zM373 380h2v1h-2zM377 380h2v1h-2zM381 380h2v1h-2zM385 380h2v1h-2zM389 380h2v1h-2zM393 380h2v1h-2zM397 380h2v1h-2zM401 380h2v1h-2zM405 380h2v1h-2zM409 380h2v1h-2zM413 380h2v1h-2zM417 380h2v1h-2zM421 380h1v1h-1zM72 381h1v1h-1zM181 381h1v1h-1zM290 381h1v1h-1zM399 381h1v1h-1zM72 382h1v1h-1zM181 382h1v1h-1zM290 382h1v1h-1zM399 382h1v1h-1zM72 385h1v1h-1zM181 385h1v1h-1zM290 385h1v1h-1zM399 385h1v1h-1zM72 386h1v1h-1zM181 386h1v1h-1zM290 386h1v1h-1zM399 386h1v1h-1zM72 389h1v1h-1zM181 389h1v1h-1zM290 389h1v1h-1zM399 389h1v1h-1zM72 390h1v1h-1zM181 390h1v1h-1zM290 390h1v1h-1zM399 390h1v1h-1zM72 393h1v1h-1zM181 393h1v1h-1zM290 393h1v1h-1zM399 393h1v1h-1zM50 394h1v1h-1zM53 394h2v1h-2zM57 394h2v1h-2zM61 394h2v1h-2zM65 394h2v1h-2zM69 394h2v1h-2zM72 394h3v1h-3zM77 394h1v1h-1zM81 394h2v1h-2zM85 394h2v1h-2zM89 394h2v1h-2zM93 394h2v1h-2zM97 394h2v1h-2zM101 394h2v1h-2zM105 394h2v1h-2zM109 394h2v1h-2zM113 394h2v1h-2zM117 394h2v1h-2zM121 394h2v1h-2zM125 394h2v1h-2zM129 394h2v1h-2zM133 394h2v1h-2zM137 394h2v1h-2zM141 394h2v1h-2zM145 394h2v1h-2zM149 394h2v1h-2zM153 394h2v1h-2zM157 394h2v1h-2zM161 394h2v1h-2zM165 394h2v1h-2zM169 394h2v1h-2zM173 394h2v1h-2zM177 394h2v1h-2zM181 394h2v1h-2zM185 394h2v1h-2zM189 394h2v1h-2zM193 394h2v1h-2zM197 394h2v1h-2zM201 394h2v1h-2zM205 394h2v1h-2zM209 394h2v1h-2zM213 394h2v1h-2zM217 394h2v1h-2zM221 394h2v1h-2zM225 394h2v1h-2zM229 394h2v1h-2zM233 394h2v1h-2zM237 394h2v1h-2zM241 394h2v1h-2zM245 394h2v1h-2zM249 394h2v1h-2zM253 394h2v1h-2zM257 394h2v1h-2zM261 394h2v1h-2zM265 394h2v1h-2zM269 394h2v1h-2zM273 394h2v1h-2zM277 394h2v1h-2zM281 394h2v1h-2zM285 394h2v1h-2zM289 394h2v1h-2zM293 394h2v1h-2zM297 394h2v1h-2zM301 394h2v1h-2zM305 394h2v1h-2zM309 394h2v1h-2zM313 394h2v1h-2zM317 394h2v1h-2zM321 394h2v1h-2zM325 394h2v1h-2zM329 394h2v1h-2zM333 394h2v1h-2zM337 394h2v1h-2zM341 394h2v1h-2zM345 394h2v1h-2zM349 394h2v1h-2zM353 394h2v1h-2zM357 394h2v1h-2zM361 394h1v1h-1zM365 394h2v1h-2zM369 394h2v1h-2zM373 394h2v1h-2zM377 394h2v1h-2zM381 394h2v1h-2zM385 394h2v1h-2zM389 394h2v1h-2zM393 394h2v1h-2zM397 394h3v1h-3zM401 394h2v1h-2zM405 394h2v1h-2zM409 394h2v1h-2zM413 394h2v1h-2zM417 394h2v1h-2zM421 394h1v1h-1zM72 397h1v1h-1zM181 397h1v1h-1zM290 397h1v1h-1zM399 397h1v1h-1zM72 398h1v1h-1zM181 398h1v1h-1zM290 398h1v1h-1zM399 398h1v1h-1zM72 401h1v1h-1zM181 401h1v1h-1zM290 401h1v1h-1zM399 401h1v1h-1zM72 402h1v1h-1zM181 402h1v1h-1zM290 402h1v1h-1zM399 402h1v1h-1zM181 405h1v1h-1zM290 405h1v1h-1zM399 405h1v1h-1zM72 406h1v1h-1zM181 406h1v1h-1zM290 406h1v1h-1zM399 406h1v1h-1zM50 409h1v1h-1zM53 409h2v1h-2zM57 409h2v1h-2zM61 409h2v1h-2zM65 409h2v1h-2zM69 409h2v1h-2zM72 409h3v1h-3zM77 409h2v1h-2zM81 409h2v1h-2zM85 409h2v1h-2zM89 409h2v1h-2zM93 409h2v1h-2zM97 409h2v1h-2zM101 409h2v1h-2zM105 409h2v1h-2zM109 409h2v1h-2zM113 409h2v1h-2zM117 409h2v1h-2zM121 409h2v1h-2zM125 409h2v1h-2zM129 409h2v1h-2zM133 409h2v1h-2zM137 409h2v1h-2zM141 409h2v1h-2zM145 409h2v1h-2zM149 409h2v1h-2zM153 409h2v1h-2zM157 409h2v1h-2zM161 409h2v1h-2zM165 409h2v1h-2zM169 409h2v1h-2zM173 409h2v1h-2zM177 409h2v1h-2zM181 409h2v1h-2zM185 409h2v1h-2zM189 409h2v1h-2zM193 409h2v1h-2zM197 409h2v1h-2zM201 409h2v1h-2zM205 409h2v1h-2zM209 409h2v1h-2zM213 409h2v1h-2zM217 409h2v1h-2zM221 409h2v1h-2zM225 409h2v1h-2zM229 409h2v1h-2zM233 409h2v1h-2zM237 409h2v1h-2zM241 409h2v1h-2zM245 409h2v1h-2zM249 409h2v1h-2zM253 409h2v1h-2zM257 409h2v1h-2zM261 409h2v1h-2zM265 409h2v1h-2zM269 409h2v1h-2zM273 409h2v1h-2zM277 409h2v1h-2zM281 409h2v1h-2zM285 409h2v1h-2zM289 409h2v1h-2zM293 409h2v1h-2zM297 409h2v1h-2zM301 409h2v1h-2zM305 409h2v1h-2zM309 409h2v1h-2zM313 409h2v1h-2zM317 409h2v1h-2zM321 409h2v1h-2zM325 409h2v1h-2zM329 409h2v1h-2zM333 409h2v1h-2zM337 409h2v1h-2zM341 409h2v1h-2zM345 409h2v1h-2zM349 409h2v1h-2zM353 409h2v1h-2zM357 409h2v1h-2zM361 409h2v1h-2zM365 409h2v1h-2zM369 409h2v1h-2zM373 409h2v1h-2zM377 409h2v1h-2zM381 409h2v1h-2zM385 409h2v1h-2zM389 409h2v1h-2zM393 409h2v1h-2zM397 409h3v1h-3zM401 409h2v1h-2zM405 409h2v1h-2zM409 409h2v1h-2zM413 409h2v1h-2zM417 409h2v1h-2zM421 409h1v1h-1zM72 410h1v1h-1zM181 410h1v1h-1zM290 410h1v1h-1zM399 410h1v1h-1zM72 413h1v1h-1zM181 413h1v1h-1zM290 413h1v1h-1zM399 413h1v1h-1zM72 414h1v1h-1zM181 414h1v1h-1zM290 414h1v1h-1zM399 414h1v1h-1zM72 417h1v1h-1zM181 417h1v1h-1zM290 417h1v1h-1zM399 417h1v1h-1zM72 418h1v1h-1zM181 418h1v1h-1zM290 418h1v1h-1zM399 418h1v1h-1zM72 421h1v1h-1zM181 421h1v1h-1zM290 421h1v1h-1zM399 421h1v1h-1zM72 422h1v1h-1zM181 422h1v1h-1zM290 422h1v1h-1zM399 422h1v1h-1zM50 423h1v1h-1zM53 423h2v1h-2zM57 423h2v1h-2zM61 423h2v1h-2zM65 423h2v1h-2zM69 423h2v1h-2zM73 423h2v1h-2zM77 423h2v1h-2zM81 423h2v1h-2zM85 423h2v1h-2zM89 423h2v1h-2zM93 423h2v1h-2zM97 423h2v1h-2zM101 423h2v1h-2zM105 423h2v1h-2zM109 423h2v1h-2zM113 423h2v1h-2zM117 423h2v1h-2zM121 423h2v1h-2zM125 423h2v1h-2zM129 423h2v1h-2zM133 423h2v1h-2zM137 423h2v1h-2zM141 423h2v1h-2zM145 423h2v1h-2zM149 423h2v1h-2zM153 423h2v1h-2zM157 423h2v1h-2zM161 423h2v1h-2zM165 423h2v1h-2zM169 423h2v1h-2zM173 423h2v1h-2zM177 423h2v1h-2zM181 423h2v1h-2zM185 423h2v1h-2zM189 423h2v1h-2zM193 423h2v1h-2zM197 423h2v1h-2zM201 423h2v1h-2zM205 423h2v1h-2zM209 423h2v1h-2zM213 423h2v1h-2zM217 423h2v1h-2zM221 423h2v1h-2zM225 423h2v1h-2zM229 423h2v1h-2zM233 423h2v1h-2zM237 423h2v1h-2zM241 423h2v1h-2zM245 423h2v1h-2zM249 423h2v1h-2zM253 423h2v1h-2zM257 423h2v1h-2zM261 423h2v1h-2zM265 423h2v1h-2zM269 423h2v1h-2zM273 423h2v1h-2zM277 423h2v1h-2zM281 423h2v1h-2zM285 423h2v1h-2zM289 423h2v1h-2zM293 423h2v1h-2zM297 423h2v1h-2zM301 423h2v1h-2zM305 423h2v1h-2zM309 423h2v1h-2zM313 423h2v1h-2zM317 423h2v1h-2zM321 423h2v1h-2zM325 423h2v1h-2zM329 423h2v1h-2zM333 423h2v1h-2zM337 423h2v1h-2zM341 423h2v1h-2zM345 423h2v1h-2zM349 423h2v1h-2zM353 423h2v1h-2zM357 423h2v1h-2zM361 423h2v1h-2zM365 423h2v1h-2zM369 423h2v1h-2zM373 423h2v1h-2zM377 423h2v1h-2zM381 423h2v1h-2zM385 423h2v1h-2zM389 423h2v1h-2zM393 423h2v1h-2zM397 423h2v1h-2zM401 423h2v1h-2zM405 423h2v1h-2zM409 423h2v1h-2zM413 423h2v1h-2zM417 423h2v1h-2zM421 423h1v1h-1zM72 425h1v1h-1zM181 425h1v1h-1zM290 425h1v1h-1zM399 425h1v1h-1zM72 426h1v1h-1zM181 426h1v1h-1zM290 426h1v1h-1zM399 426h1v1h-1zM72 429h1v1h-1zM181 429h1v1h-1zM290 429h1v1h-1zM399 429h1v1h-1zM72 430h1v1h-1zM181 430h1v1h-1zM290 430h1v1h-1zM399 430h1v1h-1zM72 433h1v1h-1zM181 433h1v1h-1zM290 433h1v1h-1zM399 433h1v1h-1z"/><path fill="#9400d3" d="M261 290h3v1h-3zM277 290h5v1h-5zM260 291h1v1h-1zM263 291h1v1h-1zM277 291h1v1h-1zM281 291h1v1h-1zM259 292h1v1h-1zM264 292h1v1h-1zM276 292h1v1h-1zM282 292h1v1h-1zM258 293h1v1h-1zM264 293h1v1h-1zM276 293h1v1h-1zM282 293h1v1h-1zM258 294h1v1h-1zM264 294h1v1h-1zM275 294h1v1h-1zM283 294h1v1h-1zM257 295h1v1h-1zM264 295h1v1h-1zM275 295h1v1h-1zM283 295h1v1h-1zM257 296h1v1h-1zM264 296h1v1h-1zM275 296h1v1h-1zM284 296h1v1h-1zM257 297h1v1h-1zM264 297h1v1h-1zM275 297h1v1h-1zM285 297h1v1h-1zM256 298h1v1h-1zM264 298h1v1h-1zM275 298h1v1h-1zM286 298h3v1h-3zM256 299h1v1h-1zM264 299h1v1h-1zM274 299h1v1h-1zM289 299h3v1h-3zM256 300h1v1h-1zM265 300h1v1h-1zM274 300h1v1h-1zM292 300h2v1h-2zM255 301h1v1h-1zM265 301h1v1h-1zM274 301h1v1h-1zM294 301h1v1h-1zM314 301h2v1h-2zM255 302h1v1h-1zM265 302h1v1h-1zM274 302h1v1h-1zM294 302h1v1h-1zM313 302h1v1h-1zM316 302h1v1h-1zM322 302h3v1h-3zM328 302h6v1h-6zM222 303h2v1h-2zM240 303h2v1h-2zM255 303h1v1h-1zM265 303h1v1h-1zM274 303h1v1h-1zM295 303h1v1h-1zM312 303h1v1h-1zM317 303h1v1h-1zM321 303h1v1h-1zM325 303h3v1h-3zM334 303h1v1h-1zM220 304h2v1h-2zM224 304h2v1h-2zM239 304h1v1h-1zM242 304h1v1h-1zM255 304h1v1h-1zM265 304h1v1h-1zM274 304h1v1h-1zM295 304h1v1h-1zM312 304h1v1h-1zM318 304h3v1h-3zM335 304h1v1h-1zM218 305h2v1h-2zM225 305h1v1h-1zM238 305h1v1h-1zM242 305h1v1h-1zM255 305h1v1h-1zM265 305h1v1h-1zM274 305h1v1h-1zM295 305h1v1h-1zM311 305h1v1h-1zM318 305h1v1h-1zM336 305h1v1h-1zM218 306h1v1h-1zM225 306h1v1h-1zM238 306h1v1h-1zM242 306h1v1h-1zM254 306h1v1h-1zM265 306h1v1h-1zM273 306h1v1h-1zM295 306h1v1h-1zM311 306h1v1h-1zM337 306h1v1h-1zM217 307h1v1h-1zM225 307h1v1h-1zM237 307h1v1h-1zM242 307h1v1h-1zM254 307h1v1h-1zM265 307h1v1h-1zM273 307h1v1h-1zM295 307h1v1h-1zM310 307h1v1h-1zM338 307h1v1h-1zM216 308h1v1h-1zM226 308h1v1h-1zM237 308h1v1h-1zM243 308h1v1h-1zM254 308h1v1h-1zM265 308h1v1h-1zM273 308h1v1h-1zM296 308h1v1h-1zM310 308h1v1h-1zM338 308h1v1h-1zM216 309h1v1h-1zM226 309h1v1h-1zM236 309h1v1h-1zM243 309h1v1h-1zM254 309h1v1h-1zM265 309h1v1h-1zM273 309h1v1h-1zM296 309h1v1h-1zM309 309h1v1h-1zM338 309h1v1h-1zM215 310h1v1h-1zM226 310h1v1h-1zM236 310h1v1h-1zM243 310h1v1h-1zM254 310h1v1h-1zM265 310h1v1h-1zM273 310h1v1h-1zM296 310h1v1h-1zM309 310h1v1h-1zM338 310h1v1h-1zM214 311h1v1h-1zM226 311h1v1h-1zM235 311h1v1h-1zM243 311h1v1h-1zM254 311h1v1h-1zM266 311h1v1h-1zM273 311h1v1h-1zM296 311h1v1h-1zM309 311h1v1h-1zM339 311h1v1h-1zM214 312h1v1h-1zM226 312h1v1h-1zM235 312h1v1h-1zM244 312h1v1h-1zM254 312h1v1h-1zM266 312h1v1h-1zM273 312h1v1h-1zM296 312h1v1h-1zM309 312h1v1h-1zM339 312h1v1h-1zM213 313h1v1h-1zM226 313h1v1h-1zM234 313h1v1h-1zM244 313h1v1h-1zM253 313h1v1h-1zM266 313h1v1h-1zM273 313h1v1h-1zM296 313h1v1h-1zM308 313h1v1h-1zM339 313h1v1h-1zM213 314h1v1h-1zM227 314h1v1h-1zM234 314h1v1h-1zM244 314h1v1h-1zM253 314h1v1h-1zM266 314h1v1h-1zM273 314h1v1h-1zM296 314h1v1h-1zM308 314h1v1h-1zM340 314h1v1h-1zM204 315h4v1h-4zM211 315h2v1h-2zM227 315h1v1h-1zM233 315h1v1h-1zM244 315h1v1h-1zM253 315h1v1h-1zM266 315h1v1h-1zM273 315h1v1h-1zM297 315h1v1h-1zM308 315h1v1h-1zM340 315h1v1h-1zM203 316h1v1h-1zM208 316h3v1h-3zM227 316h1v1h-1zM233 316h1v1h-1zM244 316h1v1h-1zM253 316h1v1h-1zM266 316h1v1h-1zM273 316h1v1h-1zM297 316h1v1h-1zM308 316h1v1h-1zM340 316h1v1h-1zM202 317h1v1h-1zM227 317h1v1h-1zM232 317h1v1h-1zM245 317h1v1h-1zM252 317h1v1h-1zM266 317h1v1h-1zM273 317h1v1h-1zM297 317h1v1h-1zM308 317h1v1h-1zM340 317h1v1h-1zM201 318h1v1h-1zM228 318h1v1h-1zM232 318h1v1h-1zM245 318h1v1h-1zM252 318h1v1h-1zM266 318h1v1h-1zM273 318h1v1h-1zM297 318h1v1h-1zM307 318h1v1h-1zM340 318h1v1h-1zM200 319h1v1h-1zM228 319h1v1h-1zM231 319h1v1h-1zM245 319h1v1h-1zM252 319h1v1h-1zM266 319h1v1h-1zM273 319h1v1h-1zM297 319h1v1h-1zM307 319h1v1h-1zM340 319h1v1h-1zM200 320h1v1h-1zM228 320h1v1h-1zM231 320h1v1h-1zM245 320h1v1h-1zM252 320h1v1h-1zM266 320h1v1h-1zM273 320h1v1h-1zM297 320h1v1h-1zM306 320h1v1h-1zM340 320h1v1h-1zM199 321h1v1h-1zM229 321h2v1h-2zM245 321h1v1h-1zM251 321h1v1h-1zM266 321h1v1h-1zM273 321h1v1h-1zM297 321h1v1h-1zM306 321h1v1h-1zM341 321h1v1h-1zM189 322h6v1h-6zM198 322h1v1h-1zM230 322h1v1h-1zM245 322h1v1h-1zM251 322h1v1h-1zM266 322h1v1h-1zM273 322h1v1h-1zM298 322h1v1h-1zM305 322h1v1h-1zM341 322h1v1h-1zM188 323h1v1h-1zM195 323h3v1h-3zM246 323h1v1h-1zM251 323h1v1h-1zM266 323h1v1h-1zM272 323h1v1h-1zM298 323h1v1h-1zM305 323h1v1h-1zM341 323h1v1h-1zM186 324h2v1h-2zM246 324h1v1h-1zM251 324h1v1h-1zM267 324h1v1h-1zM272 324h1v1h-1zM298 324h1v1h-1zM304 324h1v1h-1zM341 324h1v1h-1zM185 325h1v1h-1zM246 325h1v1h-1zM250 325h1v1h-1zM267 325h1v1h-1zM272 325h1v1h-1zM298 325h1v1h-1zM304 325h1v1h-1zM341 325h1v1h-1zM424 325h1v1h-1zM184 326h1v1h-1zM246 326h1v1h-1zM249 326h1v1h-1zM267 326h1v1h-1zM272 326h1v1h-1zM298 326h1v1h-1zM303 326h1v1h-1zM341 326h1v1h-1zM415 326h3v1h-3zM424 326h2v1h-2zM182 327h2v1h-2zM246 327h3v1h-3zM267 327h1v1h-1zM272 327h1v1h-1zM298 327h1v1h-1zM303 327h1v1h-1zM341 327h1v1h-1zM408 327h5v1h-5zM415 327h1v1h-1zM418 327h1v1h-1zM420 327h1v1h-1zM423 327h1v1h-1zM425 327h1v1h-1zM172 328h1v1h-1zM181 328h1v1h-1zM267 328h1v1h-1zM272 328h1v1h-1zM299 328h1v1h-1zM302 328h1v1h-1zM341 328h1v1h-1zM398 328h1v1h-1zM406 328h2v1h-2zM413 328h2v1h-2zM419 328h1v1h-1zM421 328h1v1h-1zM423 328h1v1h-1zM171 329h1v1h-1zM173 329h2v1h-2zM179 329h2v1h-2zM267 329h1v1h-1zM272 329h1v1h-1zM299 329h1v1h-1zM301 329h1v1h-1zM341 329h1v1h-1zM397 329h1v1h-1zM399 329h1v1h-1zM401 329h5v1h-5zM414 329h1v1h-1zM421 329h2v1h-2zM154 330h4v1h-4zM170 330h1v1h-1zM175 330h1v1h-1zM178 330h1v1h-1zM267 330h1v1h-1zM272 330h1v1h-1zM300 330h2v1h-2zM341 330h1v1h-1zM394 330h3v1h-3zM400 330h1v1h-1zM422 330h1v1h-1zM153 331h1v1h-1zM158 331h4v1h-4zM169 331h1v1h-1zM176 331h2v1h-2zM267 331h1v1h-1zM272 331h1v1h-1zM300 331h1v1h-1zM341 331h1v1h-1zM394 331h1v1h-1zM151 332h2v1h-2zM162 332h2v1h-2zM168 332h1v1h-1zM267 332h1v1h-1zM272 332h1v1h-1zM342 332h1v1h-1zM394 332h1v1h-1zM149 333h2v1h-2zM164 333h4v1h-4zM267 333h1v1h-1zM272 333h1v1h-1zM342 333h1v1h-1zM393 333h1v1h-1zM148 334h1v1h-1zM267 334h1v1h-1zM272 334h1v1h-1zM342 334h1v1h-1zM393 334h1v1h-1zM145 335h3v1h-3zM267 335h1v1h-1zM272 335h1v1h-1zM342 335h1v1h-1zM393 335h1v1h-1zM144 336h1v1h-1zM267 336h1v1h-1zM272 336h1v1h-1zM342 336h1v1h-1zM392 336h1v1h-1zM143 337h1v1h-1zM267 337h1v1h-1zM272 337h1v1h-1zM342 337h1v1h-1zM392 337h1v1h-1zM142 338h1v1h-1zM267 338h1v1h-1zM272 338h1v1h-1zM343 338h1v1h-1zM391 338h1v1h-1zM141 339h1v1h-1zM267 339h1v1h-1zM272 339h1v1h-1zM343 339h1v1h-1zM391 339h1v1h-1zM140 340h1v1h-1zM268 340h1v1h-1zM272 340h1v1h-1zM343 340h1v1h-1zM391 340h1v1h-1zM139 341h1v1h-1zM268 341h1v1h-1zM272 341h1v1h-1zM343 341h1v1h-1zM390 341h1v1h-1zM138 342h1v1h-1zM268 342h1v1h-1zM271 342h1v1h-1zM343 342h1v1h-1zM390 342h1v1h-1zM137 343h1v1h-1zM268 343h1v1h-1zM271 343h1v1h-1zM344 343h1v1h-1zM390 343h1v1h-1zM131 344h4v1h-4zM136 344h1v1h-1zM268 344h1v1h-1zM271 344h1v1h-1zM344 344h1v1h-1zM389 344h1v1h-1zM130 345h1v1h-1zM135 345h2v1h-2zM268 345h1v1h-1zM271 345h1v1h-1zM345 345h1v1h-1zM389 345h1v1h-1zM129 346h1v1h-1zM268 346h1v1h-1zM271 346h1v1h-1zM345 346h3v1h-3zM389 346h1v1h-1zM124 347h5v1h-5zM268 347h1v1h-1zM271 347h1v1h-1zM348 347h1v1h-1zM388 347h1v1h-1zM124 348h1v1h-1zM268 348h1v1h-1zM271 348h1v1h-1zM349 348h1v1h-1zM388 348h1v1h-1zM123 349h1v1h-1zM268 349h1v1h-1zM271 349h1v1h-1zM349 349h1v1h-1zM356 349h1v1h-1zM388 349h1v1h-1zM123 350h1v1h-1zM269 350h1v1h-1zM271 350h1v1h-1zM350 350h1v1h-1zM356 350h2v1h-2zM387 350h1v1h-1zM115 351h2v1h-2zM120 351h3v1h-3zM269 351h1v1h-1zM271 351h1v1h-1zM350 351h1v1h-1zM355 351h1v1h-1zM357 351h1v1h-1zM387 351h1v1h-1zM114 352h1v1h-1zM117 352h3v1h-3zM269 352h3v1h-3zM350 352h1v1h-1zM354 352h1v1h-1zM357 352h1v1h-1zM387 352h1v1h-1zM113 353h1v1h-1zM269 353h2v1h-2zM350 353h1v1h-1zM354 353h1v1h-1zM357 353h1v1h-1zM386 353h1v1h-1zM111 354h2v1h-2zM269 354h2v1h-2zM351 354h1v1h-1zM353 354h1v1h-1zM357 354h1v1h-1zM386 354h1v1h-1zM109 355h2v1h-2zM270 355h1v1h-1zM351 355h2v1h-2zM357 355h1v1h-1zM386 355h1v1h-1zM106 356h3v1h-3zM270 356h1v1h-1zM357 356h1v1h-1zM385 356h1v1h-1zM105 357h1v1h-1zM270 357h1v1h-1zM358 357h1v1h-1zM385 357h1v1h-1zM104 358h1v1h-1zM358 358h1v1h-1zM384 358h1v1h-1zM102 359h2v1h-2zM358 359h1v1h-1zM384 359h1v1h-1zM101 360h1v1h-1zM358 360h1v1h-1zM384 360h1v1h-1zM100 361h1v1h-1zM358 361h1v1h-1zM383 361h1v1h-1zM100 362h1v1h-1zM358 362h1v1h-1zM383 362h1v1h-1zM99 363h1v1h-1zM358 363h1v1h-1zM383 363h1v1h-1zM99 364h1v1h-1zM359 364h1v1h-1zM382 364h1v1h-1zM98 365h1v1h-1zM359 365h1v1h-1zM381 365h1v1h-1zM98 366h1v1h-1zM359 366h1v1h-1zM381 366h1v1h-1zM97 367h1v1h-1zM359 367h1v1h-1zM381 367h1v1h-1zM97 368h1v1h-1zM359 368h1v1h-1zM381 368h1v1h-1zM96 369h1v1h-1zM359 369h1v1h-1zM381 369h1v1h-1zM96 370h1v1h-1zM359 370h1v1h-1zM381 370h1v1h-1zM95 371h1v1h-1zM360 371h1v1h-1zM380 371h1v1h-1zM95 372h1v1h-1zM360 372h1v1h-1zM380 372h1v1h-1zM94 373h1v1h-1zM360 373h1v1h-1zM380 373h1v1h-1zM94 374h1v1h-1zM360 374h1v1h-1zM380 374h1v1h-1zM94 375h1v1h-1zM360 375h1v1h-1zM380 375h1v1h-1zM93 376h1v1h-1zM360 376h1v1h-1zM380 376h1v1h-1zM93 377h1v1h-1zM360 377h1v1h-1zM380 377h1v1h-1zM93 378h1v1h-1zM360 378h1v1h-1zM380 378h1v1h-1zM93 379h1v1h-1zM360 379h1v1h-1zM380 379h1v1h-1zM92 380h1v1h-1zM360 380h1v1h-1zM380 380h1v1h-1zM92 381h1v1h-1zM360 381h1v1h-1zM379 381h1v1h-1zM91 382h1v1h-1zM361 382h1v1h-1zM379 382h1v1h-1zM91 383h1v1h-1zM361 383h1v1h-1zM379 383h1v1h-1zM90 384h1v1h-1zM361 384h1v1h-1zM379 384h1v1h-1zM90 385h1v1h-1zM361 385h1v1h-1zM378 385h1v1h-1zM89 386h1v1h-1zM361 386h1v1h-1zM378 386h1v1h-1zM89 387h1v1h-1zM361 387h1v1h-1zM378 387h1v1h-1zM84 388h2v1h-2zM87 388h2v1h-2zM361 388h1v1h-1zM378 388h1v1h-1zM82 389h2v1h-2zM86 389h1v1h-1zM361 389h1v1h-1zM378 389h1v1h-1zM81 390h1v1h-1zM361 390h1v1h-1zM377 390h1v1h-1zM80 391h1v1h-1zM362 391h1v1h-1zM377 391h1v1h-1zM79 392h1v1h-1zM362 392h1v1h-1zM377 392h1v1h-1zM78 393h1v1h-1zM362 393h1v1h-1zM376 393h1v1h-1zM78 394h1v1h-1zM362 394h1v1h-1zM376 394h1v1h-1zM77 395h1v1h-1zM362 395h1v1h-1zM376 395h1v1h-1zM76 396h1v1h-1zM362 396h1v1h-1zM375 396h1v1h-1zM75 397h1v1h-1zM362 397h1v1h-1zM375 397h1v1h-1zM75 398h1v1h-1zM362 398h1v1h-1zM374 398h1v1h-1zM74 399h1v1h-1zM362 399h1v1h-1zM374 399h1v1h-1zM74 400h1v1h-1zM363 400h1v1h-1zM373 400h1v1h-1zM74 401h1v1h-1zM363 401h1v1h-1zM373 401h1v1h-1zM73 402h1v1h-1zM363 402h1v1h-1zM372 402h1v1h-1zM73 403h1v1h-1zM363 403h1v1h-1zM371 403h1v1h-1zM72 404h1v1h-1zM363 404h1v1h-1zM369 404h2v1h-2zM72 405h1v1h-1zM363 405h1v1h-1zM367 405h2v1h-2zM71 406h1v1h-1zM363 406h1v1h-1zM365 406h2v1h-2zM71 407h1v1h-1zM364 407h1v1h-1zM71 408h1v1h-1zM71 409h1v1h-1zM71 410h1v1h-1zM71 411h1v1h-1zM70 412h1v1h-1zM70 413h1v1h-1zM69 414h1v1h-1zM67 415h2v1h-2zM67 416h1v1h-1zM66 417h1v1h-1zM60 418h2v1h-2zM64 418h2v1h-2zM58 419h2v1h-2zM62 419h2v1h-2zM55 420h3v1h-3zM54 421h1v1h-1zM53 422h1v1h-1zM51 423h2v1h-2zM49 424h2v1h-2zM46 425h3v1h-3z"/></svg></body></html>
